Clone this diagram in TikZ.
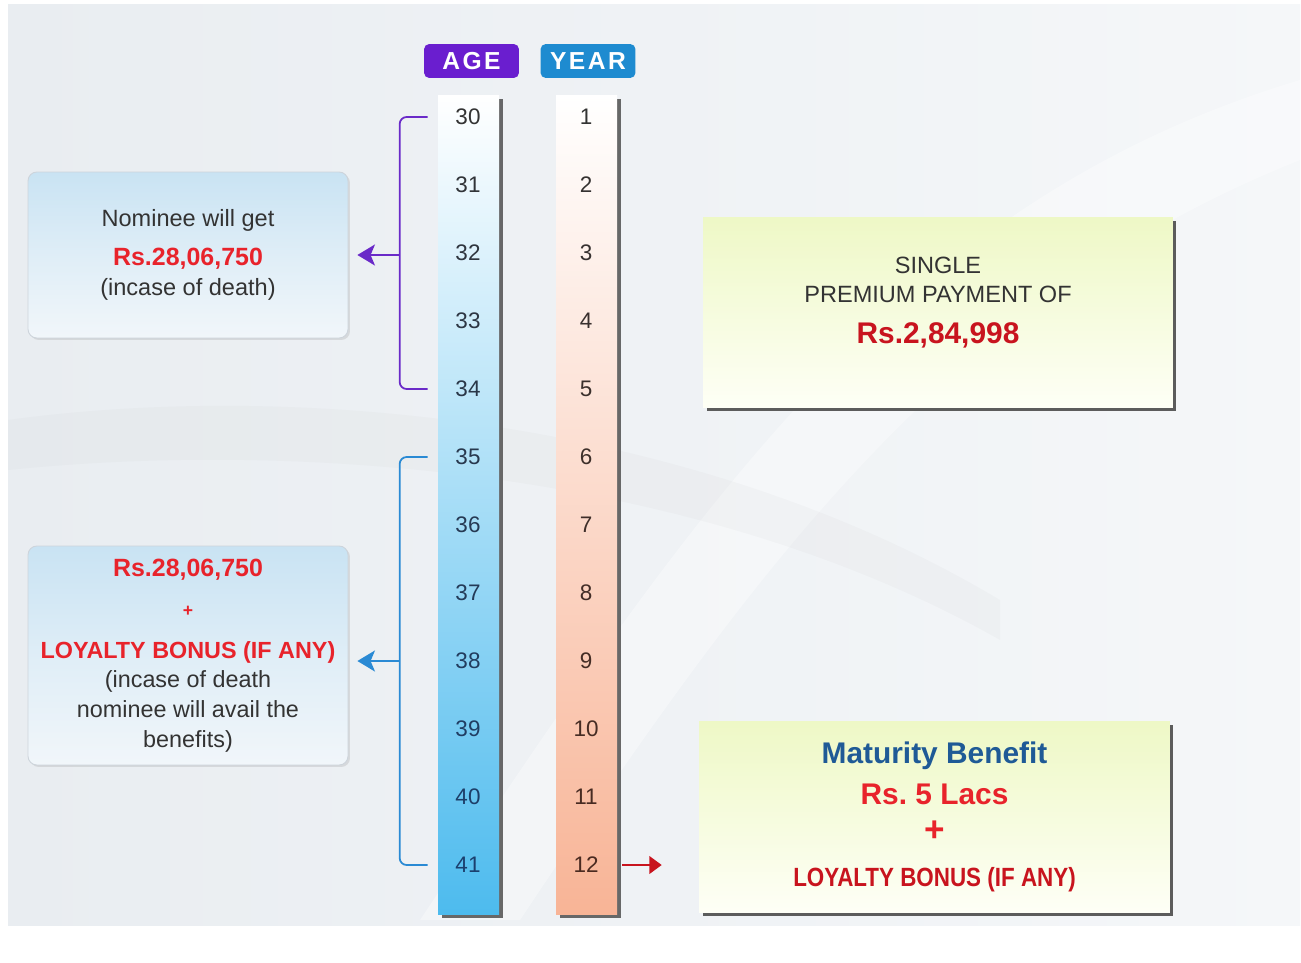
\documentclass[tikz,border=0pt]{standalone}
\usepackage{fontspec}
\setmainfont{Liberation Sans}
\usepackage{xcolor}
\definecolor{bg-gray}{HTML}{E9EDF1}
\definecolor{bg-light}{HTML}{F5F7F9}
\definecolor{txt-gray}{HTML}{333333}
\definecolor{age-purple}{HTML}{6A1ECF}
\definecolor{year-blue}{HTML}{1E8BD0}
\definecolor{brk-purple}{HTML}{6A2AC8}
\definecolor{brk-blue}{HTML}{2A8AD4}
\definecolor{age-fill}{HTML}{4DBBEE}
\definecolor{year-fill}{HTML}{F8B496}
\definecolor{num-navy}{HTML}{1B3F6E}
\definecolor{num-brown}{HTML}{4A2A20}
\definecolor{rs-red}{HTML}{E8232B}
\definecolor{rs-dark}{HTML}{C8141E}
\definecolor{mat-blue}{HTML}{1F5A96}
\definecolor{pale-sky}{HTML}{C9E3F3}
\definecolor{pale-sky2}{HTML}{F1F6FA}
\definecolor{pale-lime}{HTML}{EEF8C6}
\definecolor{pale-cream}{HTML}{FEFFF6}
\definecolor{box-edge}{HTML}{CDD4DB}
\usepackage{tikz}
\usetikzlibrary{positioning,calc,shadows,arrows.meta}
\tikzset{tag/.style = {rounded corners=3pt, minimum width=1.9cm, minimum height=0.68cm, inner sep=0pt, text=white,
  font=\fontsize{14}{16}\selectfont\bfseries\addfontfeature{LetterSpace=10}}}
\tikzset{col/.style = {minimum width=1.22cm, minimum height=16.4cm, inner sep=0pt,
  drop shadow={shadow xshift=0.07cm, shadow yshift=-0.07cm, fill=black!65, opacity=.9}}}
\tikzset{num/.style = {font=\fontsize{12.8}{15}\selectfont}}
\tikzset{sidebox/.style = {draw=box-edge, line width=.5pt, rounded corners=5pt, align=center, text=txt-gray,
  minimum width=6.4cm, top color=pale-sky, bottom color=pale-sky2, middle color=pale-sky!45!pale-sky2,
  drop shadow={shadow xshift=0.04cm, shadow yshift=-0.04cm, opacity=.2}}}
\tikzset{mainbox/.style = {align=center, text=txt-gray, minimum width=9.4cm, minimum height=3.82cm,
  top color=pale-lime, bottom color=pale-cream,
  drop shadow={shadow xshift=0.07cm, shadow yshift=-0.07cm, fill=black!70, opacity=.9}}}
\tikzset{brk/.style = {line width=1pt, rounded corners=4pt}}
\tikzset{arr/.style = {line width=1pt, -{Stealth[length=10pt, width=12pt, inset=2.5pt]}, shorten >=0.18cm}}
\tikzset{rarr/.style = {line width=1.1pt, draw=rs-dark, -{Triangle[length=7pt, width=10pt]}, shorten >=0.74cm}}

\begin{document}
\begin{tikzpicture}[x=0.02cm, y=-0.02cm]
\useasboundingbox (0,0) rectangle (1301,963);
\fill[white] (0,0) rectangle (1301,963);
\shade[left color=bg-gray, right color=bg-light] (8,5) rectangle (1300,925);
% faint swooshes of the backdrop
\fill[white, opacity=.35] (420,920) .. controls (700,500) and (900,200) .. (1300,80) -- (1300,160) .. controls (950,300) and (760,560) .. (520,920) -- cycle;
\fill[gray, opacity=.035] (8,420) .. controls (300,380) and (700,420) .. (1000,600) -- (1000,640) .. controls (700,470) and (300,440) .. (8,470) -- cycle;

% headers
\node[tag, fill=age-purple] (agetag) at (471.5,61) {AGE};
\node[tag, fill=year-blue] (yeartag) at (588,61) {YEAR};

% columns
\node[col, top color=white, bottom color=age-fill] (agecol) at (468.5,505) {};
\node[col, top color=white, bottom color=year-fill] (yearcol) at (586.5,505) {};

\foreach \r in {0,...,11} {
  \pgfmathtruncatemacro\agev{30+\r}
  \pgfmathtruncatemacro\yrv{\r+1}
  \pgfmathtruncatemacro\pct{100*\r/11}
  \node[num, text=num-navy!\pct!txt-gray] (a\agev) at (468,{117+68*\r}) {\agev};
  \node[num, text=num-brown!\pct!txt-gray] (yr\yrv) at (586,{117+68*\r}) {\yrv};
}

% boxes
\node[sidebox, minimum height=3.32cm, font=\fontsize{13.4}{17.6}\selectfont] (nom) at (188,255)
  {Nominee will get\\[4.5pt]
   {\fontsize{14.2}{17.6}\selectfont\bfseries\color{rs-red}Rs.28,06,750}\\
   (incase of death)};
\node[sidebox, minimum height=4.38cm, font=\fontsize{13.3}{16.8}\selectfont] (loy) at (188,655.5)
  {{\fontsize{14.2}{16.8}\selectfont\bfseries\color{rs-red}Rs.28,06,750}\\[6pt]
   {\fontsize{10}{12}\selectfont\bfseries\color{rs-red}+}\\[7pt]
   {\bfseries\color{rs-red}LOYALTY BONUS (IF ANY)}\\
   (incase of death\\ nominee will avail the\\ benefits)};
\node[mainbox, font=\fontsize{13.4}{16.5}\selectfont] (prem) at (938,312.5)
  {SINGLE\\ PREMIUM PAYMENT OF\\[6.8pt]
   {\fontsize{17}{18}\selectfont\bfseries\color{rs-dark}Rs.2,84,998}\\[-2.8pt]\mbox{}};
\node[mainbox, minimum width=9.42cm, minimum height=3.84cm, font=\fontsize{17}{21}\selectfont\bfseries] (mat) at (934.5,817)
  {{\color{mat-blue}Maturity Benefit}\\[2pt]
   {\color{rs-red}Rs.\ 5 Lacs}\\
   {\fontsize{20}{21}\selectfont\color{rs-red}+}\\[4.6pt]
   {\color{rs-dark}\scalebox{0.85}[1]{\fontsize{15}{18}\selectfont LOYALTY BONUS (IF ANY)}}};

% brackets and arrows
\draw[brk, draw=brk-purple] ($(agecol.west |- a30)+(-10,0)$) -- ++(-28,0) |- ($(agecol.west |- a34)+(-10,0)$);
\coordinate (b1) at ($(agecol.west |- nom.east)+(-38,0)$);
\draw[arr, draw=brk-purple, fill=brk-purple] (b1) -- (nom);

\draw[brk, draw=brk-blue] ($(agecol.west |- a35)+(-10,0)$) -- ++(-28,0) |- ($(agecol.west |- a41)+(-10,0)$);
\coordinate (b2) at ($(agecol.west |- a38)+(-38,0)$);
\draw[arr, draw=brk-blue, fill=brk-blue] (b2) -- (b2 -| loy.east);

\coordinate (r0) at ($(yearcol.east |- yr12)+(5,0)$);
\draw[rarr, fill=rs-dark] (r0) -- (r0 -| mat.west);
\end{tikzpicture}
\end{document}
